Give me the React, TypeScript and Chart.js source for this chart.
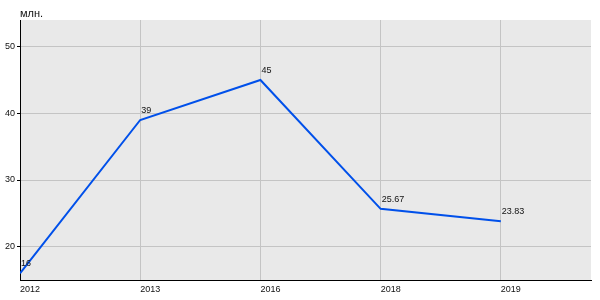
import React, { useEffect, useRef } from "react";
import { Chart, registerables } from "chart.js";

Chart.register(...registerables);

const categories = ["2012", "2013", "2016", "2018", "2019"];
const values = [16, 39, 45, 25.67, 23.83];
const yTicks = [20, 30, 40, 50];
const unitLabel = "млн.";

export default function App() {
  const ref = useRef<HTMLCanvasElement | null>(null);

  useEffect(() => {
    document.body.style.margin = "0";
    const canvas = ref.current;
    if (!canvas) return;

    const bgPlugin = {
      id: "bg",
      beforeDraw(chart: any) {
        const { ctx, chartArea } = chart;
        ctx.save();
        ctx.fillStyle = "#e9e9e9";
        ctx.fillRect(chartArea.left, chartArea.top, chartArea.right - chartArea.left, chartArea.bottom - chartArea.top);
        ctx.restore();
      },
      afterDraw(chart: any) {
        const { ctx, chartArea } = chart;
        ctx.save();
        ctx.fillStyle = "#111";
        ctx.textAlign = "left";
        ctx.textBaseline = "alphabetic";
        ctx.font = "11px 'Liberation Sans', Arial, sans-serif";
        ctx.fillText(unitLabel, chartArea.left, 17);
        ctx.font = "9px 'Liberation Sans', Arial, sans-serif";
        const meta = chart.getDatasetMeta(0);
        meta.data.forEach((pt: any, i: number) => {
          ctx.fillText(String(values[i]), pt.x + 1, pt.y - 7);
        });
        ctx.restore();
      },
    };

    const chart = new Chart(canvas, {
      type: "line",
      data: {
        datasets: [
          {
            data: values.map((v, i) => ({ x: i, y: v })),
            borderColor: "#0050ea",
            borderWidth: 2,
            pointRadius: 0,
            fill: false,
            tension: 0,
          },
        ],
      },
      options: {
        animation: false,
        responsive: false,
        layout: { padding: { top: 20, right: 9, left: 0, bottom: 0 } },
        plugins: { legend: { display: false }, tooltip: { enabled: false } },
        scales: {
          x: {
            type: "linear",
            min: 0,
            max: 4.75,
            afterBuildTicks(scale: any) {
              scale.ticks = categories.map((_, i) => ({ value: i }));
            },
            afterFit(scale: any) {
              scale.height = 20;
            },
            ticks: {
              align: "start",
              padding: 4,
              maxRotation: 0,
              color: "#111",
              font: { family: "'Liberation Sans', Arial, sans-serif", size: 9 },
              callback: (v: any) => categories[Math.round(Number(v))] ?? "",
            },
            grid: { color: "#c4c4c4", drawTicks: false },
            border: { color: "#000", width: 1 },
          },
          y: {
            type: "linear",
            min: 15,
            max: 54,
            afterBuildTicks(scale: any) {
              scale.ticks = yTicks.map((v) => ({ value: v }));
            },
            afterFit(scale: any) {
              scale.width = 20;
            },
            ticks: {
              padding: 2,
              color: "#111",
              font: { family: "'Liberation Sans', Arial, sans-serif", size: 9 },
            },
            grid: { color: "#c4c4c4", tickColor: "#000", tickLength: 3 },
            border: { color: "#000", width: 1 },
          },
        },
      },
      plugins: [bgPlugin],
    } as any);

    return () => chart.destroy();
  }, []);

  return <canvas ref={ref} width={600} height={300} style={{ display: "block" }} />;
}
